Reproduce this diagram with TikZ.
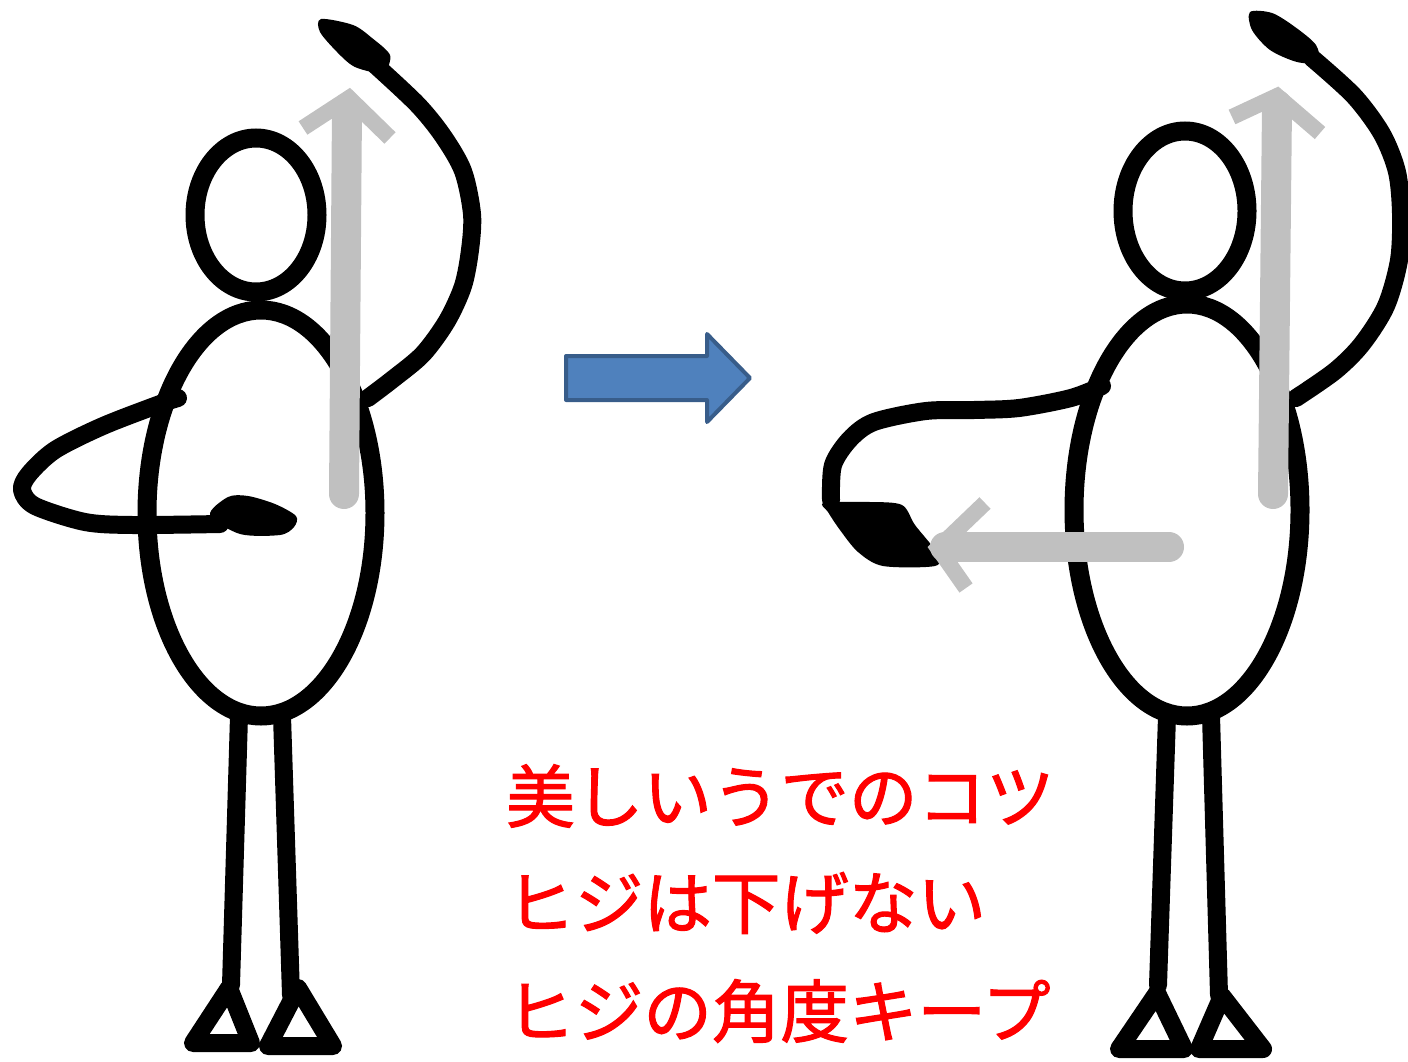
\documentclass[tikz,border=0pt]{standalone}
\usepackage{fontspec}
\newfontfamily\jpfont{Noto Sans CJK JP}[FakeBold=1.6]
\usetikzlibrary{positioning}
\definecolor{guidegray}{HTML}{C0C0C0}
\definecolor{arrowblue}{HTML}{4F81BD}
\definecolor{arrowedge}{HTML}{385D8A}
\definecolor{tipred}{HTML}{FF0000}
\tikzset{
  limb/.style={draw=black,line width=0.36cm,line cap=round,line join=round},
  outline/.style={draw=black,line width=0.38cm},
  palm/.style={fill=black},
  foot/.style={draw=black,line width=0.36cm,line join=round},
  guideshaft/.style={draw=guidegray,line width=0.6cm,line cap=round},
  guidehead/.style={draw=guidegray,line width=0.32cm,line join=miter},
  bigarrow/.style={fill=arrowblue,draw=arrowedge,line width=0.08cm,line join=round},
  tipline/.style={font=\jpfont\fontsize{39}{46}\selectfont,text=tipred,inner sep=0pt,anchor=west}
}

\begin{document}
\begin{tikzpicture}[x=0.02cm,y=-0.02cm]
  \useasboundingbox (0,0) rectangle (1408,1061);

  % --- dancer before ---
  \draw[outline] (256,215) ellipse [x radius=61,y radius=77];
  \draw[outline] (261,513) ellipse [x radius=114,y radius=203];
  \draw[limb] (239,716) -- (231,985);
  \draw[limb] (282,716) -- (291,995);
  \draw[foot] (229,988) -- (251,1043) -- (193,1043) -- cycle;
  \draw[foot] (298,988) -- (333,1046) -- (268,1046) -- cycle;
  % raised arm
  \draw[limb] plot[smooth] coordinates {(372,62) (417,104) (443,136) (463,171) (472,214)
    (470,250) (463,286) (447,321) (423,354) (393,379) (368,398)};
  \fill[palm] plot[smooth cycle] coordinates {(321,19) (353,25) (372,38) (390,55)
    (385,72) (372,72) (353,66) (337,52) (320,32)};
  % bent arm, elbow dropped
  \draw[limb] plot[smooth] coordinates {(178,398) (160,404) (103,426) (55,450) (29,474)
    (22,490) (35,506) (85,522) (133,525) (220,524)};
  \fill[palm] plot[smooth cycle] coordinates {(210,515) (228,497) (248,496) (275,504)
    (296,516) (294,527) (280,535) (240,534)};
  % lift direction
  \draw[guideshaft] (344,494) -- (347,108);
  \draw[guidehead] (303,128) -- (349,98) -- (390,138);

  % --- change ---
  \draw[bigarrow] (566,356) -- (707,356) -- (707,334) -- (750,378)
    -- (707,422) -- (707,400) -- (566,400) -- cycle;

  % --- dancer after ---
  \draw[outline] (1185,211) ellipse [x radius=62,y radius=80];
  \draw[outline] (1187,510) ellipse [x radius=113,y radius=206];
  \draw[limb] (1167,716) -- (1158,985);
  \draw[limb] (1211,716) -- (1219,995);
  \draw[foot] (1157,993) -- (1184,1049) -- (1119,1049) -- cycle;
  \draw[foot] (1222,996) -- (1263,1049) -- (1199,1049) -- cycle;
  % raised arm
  \draw[limb] plot[smooth] coordinates {(1312,58) (1354,96) (1382,134) (1397,172)
    (1401,214) (1399,260) (1386,306) (1362,344) (1335,371) (1296,398)};
  \fill[palm] plot[smooth cycle] coordinates {(1250,12) (1272,13) (1295,27) (1316,45)
    (1318,62) (1297,62) (1270,50) (1252,30)};
  % forward arm, elbow kept up
  \draw[limb] plot[smooth] coordinates {(1102,386) (1071,398) (1019,408) (974,410)
    (926,411) (874,422) (850,439) (833,465) (831,500)};
  \fill[palm] plot[smooth cycle] coordinates {(824,503) (870,502) (902,505) (915,525)
    (937,553) (935,566) (883,566) (858,552) (840,530) (828,512)};
  % lift and reach directions
  \draw[guideshaft] (1273,494) -- (1277,105);
  \draw[guidehead] (1232,117) -- (1277,96) -- (1320,133);
  \draw[guideshaft] (1169,547) -- (945,547);
  \draw[guidehead] (985,503) -- (938,548) -- (966,588);

  % --- tips ---
  \node[tipline] (tip1) at (506,796) {美しいうでのコツ};
  \node[tipline] (tip2) at (506,903) {ヒジは下げない};
  \node[tipline] (tip3) at (506,1011) {ヒジの角度キープ};
\end{tikzpicture}
\end{document}
